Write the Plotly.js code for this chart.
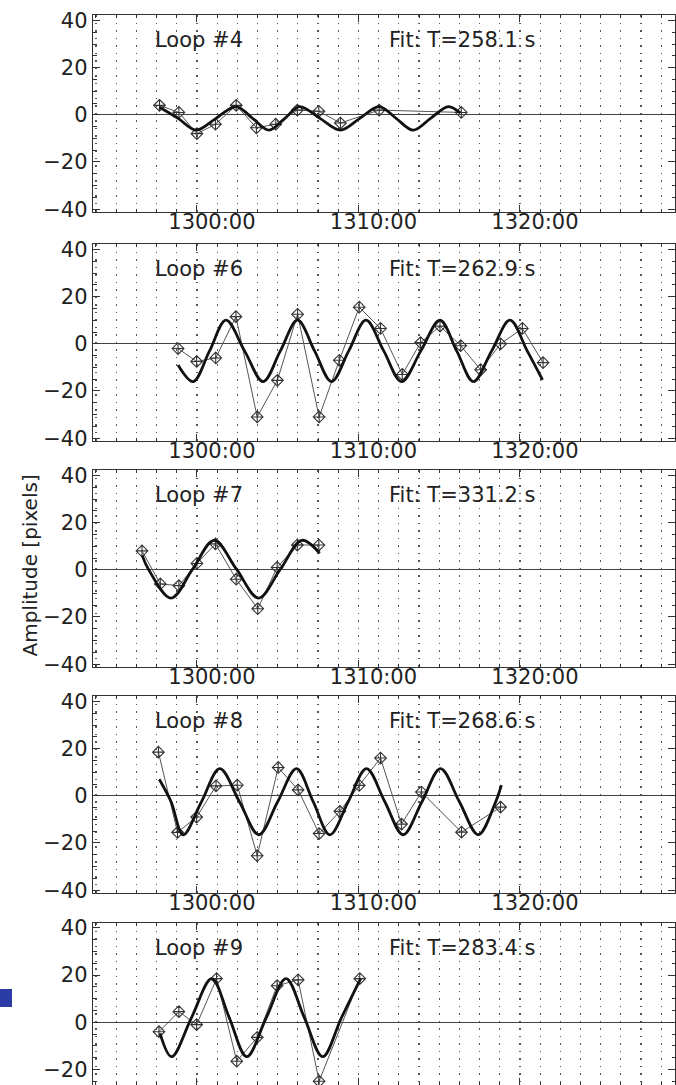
<!DOCTYPE html>
<html>
<head>
<meta charset="utf-8">
<script src="https://cdn.plot.ly/plotly-3.0.1.min.js"></script>
<style>html,body{margin:0;padding:0;background:#fff;}#chart{width:676px;height:1085px;}</style>
</head>
<body>
<div id="chart"></div>
<script>
// ---------- data (times HH:MM:SS, amplitudes in pixels) ----------
const loopNames = ['Loop #4', 'Loop #6', 'Loop #7', 'Loop #8', 'Loop #9'];
const fitPeriods = ['258.1', '262.9', '331.2', '268.6', '283.4'];
const yAxisTitle = 'Amplitude [pixels]';

const loop4Time = ['12:57:41','12:58:53','13:00:00','13:01:09','13:02:26','13:03:41','13:04:53','13:06:13','13:07:33','13:08:53','13:11:17','13:16:22'];
const loop4Amp  = [4, 1, -8, -4, 4, -5.5, -4, 2, 1.5, -3.5, 2, 1];
const loop4FitTime = ['12:57:41','12:58:50','12:59:57','13:01:11','13:02:25','13:03:27','13:04:28','13:05:27','13:06:21','13:07:37','13:08:53','13:10:05','13:11:17','13:12:20','13:13:23','13:14:28','13:15:34','13:16:18'];
const loop4FitAmp  = [3.2, -1.5, -6.5, -1.5, 3.5, -1.5, -6.5, -1.5, 3.5, -1.5, -6.5, -1.5, 3.5, -1.5, -6.5, -1.5, 3.5, 0.8];

const loop6Time = ['12:58:50','12:59:59','13:01:10','13:02:25','13:03:44','13:04:59','13:06:14','13:07:34','13:08:49','13:10:03','13:11:22','13:12:43','13:13:51','13:15:03','13:16:20','13:17:34','13:18:48','13:20:09','13:21:26'];
const loop6Amp  = [-2, -7.5, -6, 11.5, -31, -15.5, 12.5, -31, -7, 15.5, 6.5, -13, 0.5, 7.5, -0.8, -11, 0, 6.5, -8];
const loop6FitTime = ['12:58:50','12:59:46','13:00:47','13:01:48','13:02:57','13:04:06','13:05:10','13:06:14','13:07:17','13:08:20','13:09:24','13:10:28','13:11:34','13:12:40','13:13:52','13:15:03','13:16:05','13:17:07','13:18:15','13:19:23','13:20:27','13:21:24'];
const loop6FitAmp  = [-9, -16, -3, 10, -3, -16, -3, 10, -3, -16, -3, 10, -3, -16, -3, 10, -3, -16, -3, 10, -3, -15.3];

const loop7Time = ['12:56:36','12:57:44','12:58:53','13:00:00','13:01:09','13:02:26','13:03:46','13:04:58','13:06:13','13:07:33'];
const loop7Amp  = [8, -6, -6.7, 2.7, 11, -4, -16.5, 1, 10.5, 10.5];
const loop7FitTime = ['12:56:37','12:57:00','12:58:24','12:59:44','13:01:04','13:02:27','13:03:49','13:05:10','13:06:30','13:07:36'];
const loop7FitAmp  = [6, 0.25, -12, 0.25, 12.5, 0.25, -12, 0.25, 12.5, 7];

const loop8Time = ['12:57:37','12:58:48','12:59:59','13:01:11','13:02:30','13:03:44','13:05:02','13:06:16','13:07:34','13:08:51','13:10:03','13:11:22','13:12:40','13:13:54','13:16:23','13:18:48'];
const loop8Amp  = [18.5, -15.5, -9, 4.2, 4.5, -25.4, 12, 2.5, -16, -6.6, 4.4, 16, -12, 1.6, -15.4, -4.8];
const loop8FitTime = ['12:57:40','12:58:24','12:59:09','13:00:17','13:01:25','13:02:38','13:03:50','13:05:00','13:06:10','13:07:12','13:08:14','13:09:22','13:10:30','13:11:38','13:12:46','13:13:56','13:15:05','13:16:15','13:17:25','13:18:30','13:18:51'];
const loop8FitAmp  = [7, -2.5, -16.5, -2.5, 11.5, -2.5, -16.5, -2.5, 11.5, -2.5, -16.5, -2.5, 11.5, -2.5, -16.5, -2.5, 11.5, -2.5, -16.5, -2.5, 4.5];

const loop9Time = ['12:57:39','12:58:53','12:59:59','13:01:13','13:02:28','13:03:44','13:04:58','13:06:16','13:07:34','13:10:05'];
const loop9Amp  = [-4, 4.5, -1, 18.5, -16.5, -6.4, 15.5, 18, -25, 18.5];
const loop9FitTime = ['12:57:43','12:58:26','12:59:40','13:00:55','13:02:00','13:03:05','13:04:18','13:05:31','13:06:39','13:07:47','13:08:57','13:10:08'];
const loop9FitAmp  = [-4.7, -14.6, 2, 18.5, 2, -14.6, 2, 18.5, 2, -14.6, 2, 18.5];

const xStart = '12:53:34', xEnd = '13:29:36';
const yTickVals = [-40, -20, 0, 20, 40];

// ---------- build ----------
const day = '2000-01-01 ';
const toDate = arr => arr.map(t => day + t);

const series = [
  [loop4Time, loop4Amp, loop4FitTime, loop4FitAmp],
  [loop6Time, loop6Amp, loop6FitTime, loop6FitAmp],
  [loop7Time, loop7Amp, loop7FitTime, loop7FitAmp],
  [loop8Time, loop8Amp, loop8FitTime, loop8FitAmp],
  [loop9Time, loop9Amp, loop9FitTime, loop9FitAmp]
];

// plot area pixel rows [top, bottom] in the 1085-px page
const H = 1085;
const rows = [[15, 212], [244, 441], [470, 667], [696, 893], [923, 1085]];
const yRanges = [[-41.2, 42.3], [-41.2, 42.3], [-41.2, 42.3], [-41.2, 42.3], [-26.6, 42.1]];

const FONT = 'DejaVu Sans, Liberation Sans, Arial, sans-serif';
const INK = '#222';
const GRID = '#555';
const data = [];
const layout = {
  width: 676, height: 1085,
  margin: {l: 93, r: 1, t: 0, b: 0, pad: 0},
  paper_bgcolor: '#fff', plot_bgcolor: '#fff',
  showlegend: false,
  font: {family: FONT, size: 21, color: INK},
  annotations: [], shapes: []
};

series.forEach((s, i) => {
  const n = i + 1;
  const xa = n === 1 ? 'x' : 'x' + n;
  const ya = n === 1 ? 'y' : 'y' + n;
  data.push({
    x: toDate(s[0]), y: s[1], xaxis: xa, yaxis: ya, type: 'scatter',
    mode: 'lines+markers',
    line: {color: '#555', width: 1},
    marker: {symbol: 'diamond-cross-open', size: 9, color: '#333', line: {color: '#333', width: 1.1}}
  });
  data.push({
    x: toDate(s[2]), y: s[3], xaxis: xa, yaxis: ya, type: 'scatter',
    mode: 'lines',
    line: {color: '#111', width: 2.8, shape: 'spline', smoothing: 1}
  });
  const dom = [1 - rows[i][1] / H, 1 - rows[i][0] / H];
  layout['xaxis' + (n === 1 ? '' : n)] = {
    anchor: ya, domain: [0, 1], type: 'date',
    range: [day + xStart, day + xEnd],
    tick0: day + '13:00:00', dtick: 600000, tickformat: '%H%M:%S',
    ticks: 'inside', ticklen: 7, tickwidth: 1, tickcolor: '#333',
    showline: true, linecolor: '#333', linewidth: 1.2, mirror: 'allticks',
    showgrid: true, gridcolor: GRID, gridwidth: 1.2, griddash: '1.5px,6px',
    minor: {tick0: day + '13:00:00', dtick: 75000, showgrid: true, gridcolor: GRID, gridwidth: 1.2, griddash: '1.5px,6px', ticks: 'inside', ticklen: 3, tickcolor: '#333'},
    showticklabels: n !== 5,
    ticklabelshift: 15,
    ticklabelstandoff: -9,
    tickfont: {family: FONT, size: 21, color: INK},
    zeroline: false, fixedrange: true
  };
  layout['yaxis' + (n === 1 ? '' : n)] = {
    anchor: xa, domain: dom, range: yRanges[i],
    tickvals: yTickVals, ticks: 'inside', ticklen: 7, tickwidth: 1, tickcolor: '#333',
    minor: {dtick: 5, ticks: 'inside', ticklen: 3.5, tickcolor: '#333'},
    showline: true, linecolor: '#333', linewidth: 1.2, mirror: 'allticks',
    showgrid: false,
    zeroline: true, zerolinecolor: '#444', zerolinewidth: 1.2,
    tickfont: {family: FONT, size: 21, color: INK},
    fixedrange: true
  };
  layout.annotations.push({
    text: loopNames[i], xref: 'paper', yref: ya, x: 0.1031, y: 31.5,
    xanchor: 'left', yanchor: 'middle', showarrow: false,
    font: {family: FONT, size: 21, color: INK}
  });
  layout.annotations.push({
    text: 'Fit: T=' + fitPeriods[i] + ' s', xref: 'paper', yref: ya, x: 0.505, y: 31.5,
    xanchor: 'left', yanchor: 'middle', showarrow: false,
    font: {family: FONT, size: 21, color: INK}
  });
});

layout.annotations.push({
  text: yAxisTitle, xref: 'paper', yref: 'paper', x: -0.1091, y: 1 - 566 / H,
  xanchor: 'center', yanchor: 'middle', textangle: -90, showarrow: false,
  font: {family: FONT, size: 20, color: INK}
});

// small blue slide bullet at left of the last panel
layout.shapes.push({
  type: 'rect', xref: 'paper', yref: 'paper',
  x0: (0 - 93) / 582, x1: (12 - 93) / 582, y0: 1 - 1007 / H, y1: 1 - 989 / H,
  fillcolor: '#2b3ca6', line: {width: 0}
});

Plotly.newPlot('chart', data, layout, {staticPlot: true, displayModeBar: false});
</script>
</body>
</html>
